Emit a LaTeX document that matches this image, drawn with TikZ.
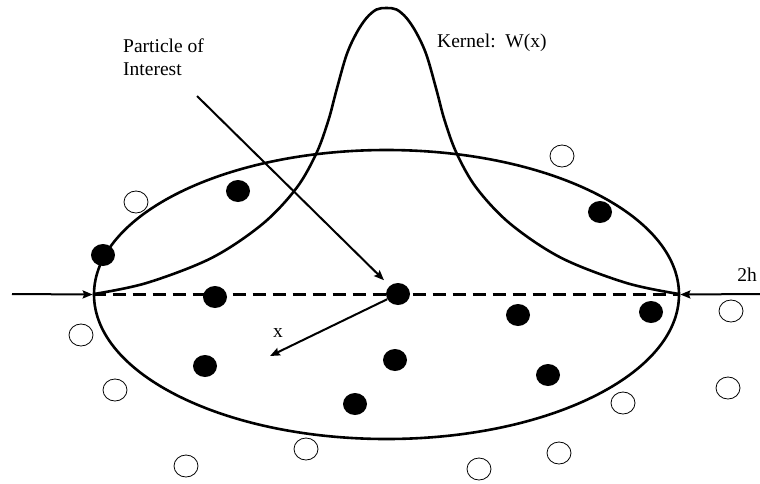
\documentclass[tikz,border=0pt]{standalone}
\usepackage{fontspec}
\setmainfont{Liberation Serif}
\usetikzlibrary{shapes.geometric,arrows.meta}
\begin{document}
\begin{tikzpicture}[x=1pt,y=-1pt,
  inside/.style={ellipse, fill=black, minimum width=24pt, minimum height=22pt, inner sep=0pt},
  outside/.style={ellipse, draw, line width=0.8pt, minimum width=24pt, minimum height=22pt, inner sep=0pt},
  arr/.style={line width=2pt, -{Stealth[length=10pt,width=8pt,inset=1.5pt]}},
  lbl/.style={font=\fontsize{19.5}{23}\selectfont, inner sep=0pt},
  thick line/.style={line width=2.6pt}]
\useasboundingbox (0,0) rectangle (760,483);
% support domain
\node[draw, thick line, ellipse, minimum width=585pt, minimum height=289pt, inner sep=0pt] (dom) at (386.5,294.5) {};
% kernel
\draw[thick line, line join=round] plot[smooth, tension=0.55] coordinates {
 (94,294) (146.5,283) (211.5,258) (262.5,224) (296.5,188) (316.5,153) (328.5,120)
 (336.5,90) (346.5,55) (356.5,33) (366.5,18) (376.5,9.5) (386.5,8) (396.5,9.5)
 (406.5,18) (416.5,33) (426.5,55) (436.5,90) (444.5,120) (456.5,153) (476.5,188)
 (510.5,224) (561.5,258) (626.5,283) (679,294)};
% diameter
\draw[line width=2.2pt, dash pattern=on 13pt off 7pt] (dom.west) -- (dom.east);
% particles inside
\node[inside] (p1) at (238,191) {};
\node[inside] (p2) at (103,255) {};
\node[inside] (p3) at (600,212) {};
\node[inside] (p4) at (215,297) {};
\node[inside] (p0) at (398,294) {};
\node[inside] (p6) at (518,315) {};
\node[inside] (p7) at (651,312) {};
\node[inside] (p8) at (205,366) {};
\node[inside] (p9) at (395,360) {};
\node[inside] (p10) at (355,404) {};
\node[inside] (p11) at (548,375) {};
% particles outside
\node[outside] (q1) at (136,202) {};
\node[outside] (q2) at (562,156) {};
\node[outside] (q3) at (81,335) {};
\node[outside] (q4) at (115,390) {};
\node[outside] (q5) at (186,466) {};
\node[outside] (q6) at (306,449) {};
\node[outside] (q7) at (623,403) {};
\node[outside] (q8) at (559,453) {};
\node[outside] (q9) at (479,469) {};
\node[outside] (q10) at (731,311) {};
\node[outside] (q11) at (728,388) {};
% labels
\node[lbl, anchor=base west, align=left] (poi) at (123,75) {Particle of\\Interest};
\node[lbl, anchor=base west] (kern) at (437,47) {Kernel:\ \ W(x)};
\node[lbl] (twoh) at (747,275) {2h};
\node[lbl] (xl) at (278,333) {x};
% arrows
\coordinate (poistart) at (197,96);
\coordinate (lstart) at (12,294);
\coordinate (rstart) at (760,294);
\coordinate (xend) at (270,356);
\draw[arr, shorten >=8pt] (poistart) -- (p0);
\draw[arr] (p0) -- (xend);
\draw[arr] (lstart) -- (dom.west);
\draw[arr] (rstart) -- (dom.east);
\end{tikzpicture}
\end{document}
